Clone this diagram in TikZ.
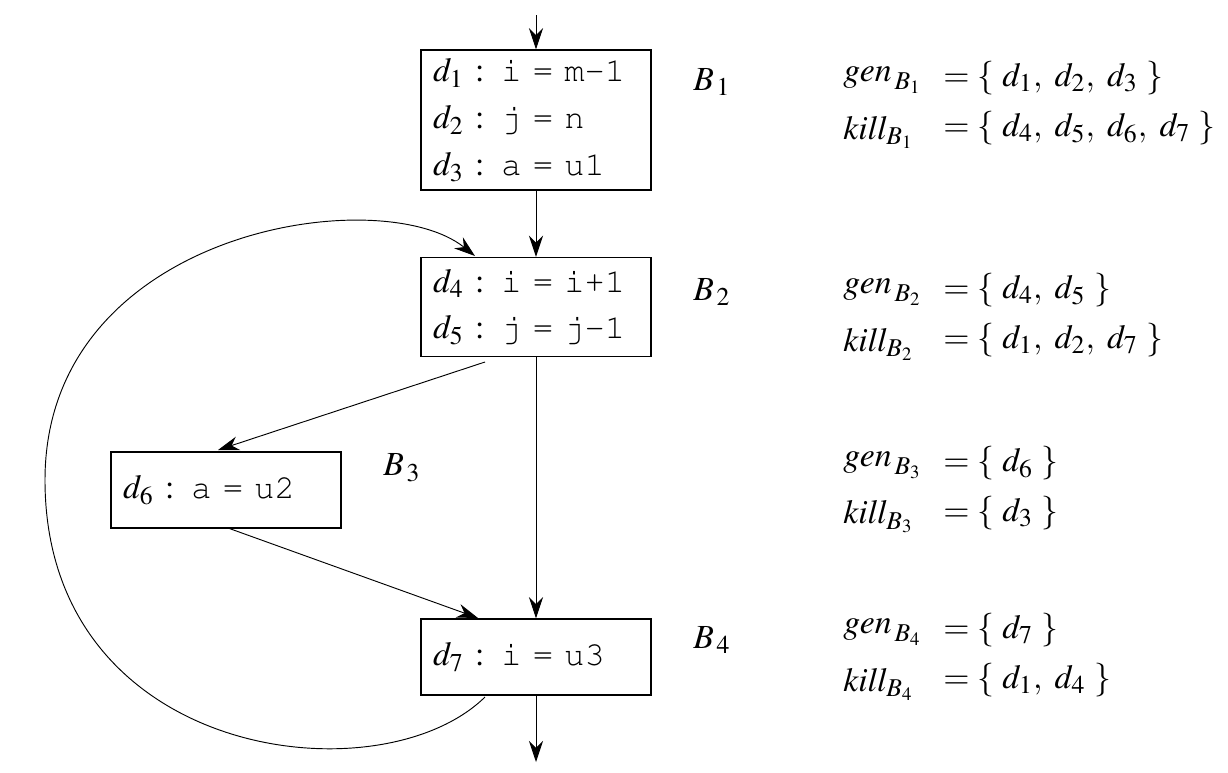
\documentclass[tikz,border=0pt]{standalone}
\usepackage[T1]{fontenc}
\usepackage{mathptmx}
\usepackage{courier}
\usetikzlibrary{arrows.meta}
\begin{document}
\begin{tikzpicture}[x=0.015cm,y=-0.015cm,>={Stealth[length=9pt,width=6pt]}]
    \tikzset{blk/.style={draw,semithick,text width=206*0.015cm,inner xsep=12*0.015cm,inner ysep=0pt,align=left,font=\Large},
             lbl/.style={font=\Large},
             eq/.style={anchor=west,font=\Large}}
    \useasboundingbox (0,0) rectangle (1228,772);
    \node [blk,minimum height=140*0.015cm] (b1) at (536,120) {$d_1$ : \texttt{i~=~m-1}\\[2pt]$d_2$ : \texttt{j~=~n}\\[2pt]$d_3$ : \texttt{a~=~u1}};
    \node [blk,minimum height=99*0.015cm] (b2) at (536,307) {$d_4$ : \texttt{i~=~i+1}\\[2pt]$d_5$ : \texttt{j~=~j-1}};
    \node [blk,minimum height=76*0.015cm] (b3) at (226,490) {$d_6$ : \texttt{a~=~u2}};
    \node [blk,minimum height=76*0.015cm] (b4) at (536,657) {$d_7$ : \texttt{i~=~u3}};
    \coordinate (in) at (536,15);
    \coordinate (out) at (536,762);
    \node [lbl] (n1) at (712,82) {$B_{\,1}$};
    \node [lbl] (n2) at (712,292) {$B_{\,2}$};
    \node [lbl] (n3) at (402,468) {$B_{\,3}$};
    \node [lbl] (n4) at (712,640) {$B_{\,4}$};
    % edges
    \draw [->] (in) -- (b1);
    \draw [->] (b1) -- (b2);
    \draw [->] (485,362) coordinate (s2) -- (218,450) coordinate (t3);
    \draw [->] (b2.south) -- (b4.north);
    \draw [->] (228,528) coordinate (s3) -- (478,618) coordinate (t4);
    \draw [->] (b4) -- (out);
    \draw [->] (485,697) coordinate (s4) .. controls (380,800) and (45,760) .. (45,480) .. controls (45,230) and (380,180) .. (475,256) coordinate (t2);
    % gen / kill sets
    \node [eq] (g1) at (835,80) {$\mathit{gen}_{\,B_1}$};
    \node [eq] (e1) at (935,78) {$= \{\ d_1,\ d_2,\ d_3\ \}$};
    \node [eq] (k1) at (835,132) {$\mathit{kill}_{B_1}$};
    \node [eq] (f1) at (935,128) {$= \{\ d_4,\ d_5,\ d_6,\ d_7\ \}$};
    \node [eq] (g2) at (835,292) {$\mathit{gen}_{\,B_2}$};
    \node [eq] (e2) at (935,290) {$= \{\ d_4,\ d_5\ \}$};
    \node [eq] (k2) at (835,344) {$\mathit{kill}_{B_2}$};
    \node [eq] (f2) at (935,340) {$= \{\ d_1,\ d_2,\ d_7\ \}$};
    \node [eq] (g3) at (835,465) {$\mathit{gen}_{\,B_3}$};
    \node [eq] (e3) at (935,463) {$= \{\ d_6\ \}$};
    \node [eq] (k3) at (835,517) {$\mathit{kill}_{B_3}$};
    \node [eq] (f3) at (935,513) {$= \{\ d_3\ \}$};
    \node [eq] (g4) at (835,632) {$\mathit{gen}_{\,B_4}$};
    \node [eq] (e4) at (935,630) {$= \{\ d_7\ \}$};
    \node [eq] (k4) at (835,684) {$\mathit{kill}_{B_4}$};
    \node [eq] (f4) at (935,680) {$= \{\ d_1,\ d_4\ \}$};
\end{tikzpicture}
\end{document}
